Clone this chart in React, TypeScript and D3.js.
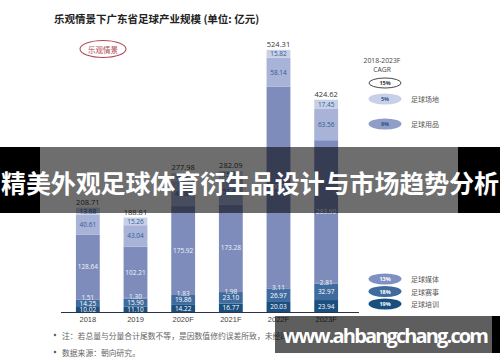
import * as React from "react";
import * as d3 from "d3";
import { useEffect, useRef } from "react";

const years = ["2018", "2019", "2020F", "2021F", "2022F", "2023F"];
const totals = [208.71, 188.81, 277.98, 282.09, 524.31, 424.62];
// segments, bottom to top
const training = [10.02, 11.1, 14.22, 16.77, 20.03, 23.94];
const events = [14.25, 15.9, 19.86, 23.1, 26.97, 32.97];
const media = [1.51, 1.3, 1.83, 1.98, 3.11, 2.81];
const other = [128.64, 102.21, 175.92, 173.28, 400.24, 283.9];
const goods = [40.61, 43.04, 49.88, 51.43, 58.14, 63.56];
const venues = [13.68, 15.26, 16.27, 15.53, 15.82, 17.45];

const seriesKeys = ["training", "events", "media", "other", "goods", "venues"];
const seriesValues = [training, events, media, other, goods, venues];
const seriesColors = ["#1b4f80", "#3f6b9e", "#7586b8", "#7d8cbb", "#a8b3d7", "#c8d0e8"];
const labelColors = ["#ffffff", "#ffffff", "#f2f4fa", "#f2f4fa", "#2f5b95", "#2f5b95"];

const cagrTotal = "15%";
const cagrTopNames = ["足球场地", "足球用品"];
const cagrTopValues = ["5%", "9%"];
const cagrTopColors = ["#c8d0e8", "#8f9dc8"];
const cagrBottomNames = ["足球媒体", "足球赛事", "足球培训"];
const cagrBottomValues = ["13%", "18%", "19%"];
const cagrBottomColors = ["#8090c2", "#3f6b9e", "#17507f"];

const titleText = "乐观情景下广东省足球产业规模 (单位: 亿元)";
const scenarioText = "乐观情景";
const notes = [
  "注：若总量与分量合计尾数不等，是因数值修约误差所致，未经四舍五入",
  "数据来源：朝向研究。",
];
const bannerText = "精美外观足球体育衍生品设计与市场趋势分析";
const siteText = "www.ahbangchang.com";

const numFont = '"Open Sans", "DejaVu Sans", sans-serif';
const cjkFont = '"Noto Sans CJK SC", "Noto Sans", sans-serif';

function generateChart(svgRef: React.RefObject<SVGSVGElement>) {
  const svg = d3.select(svgRef.current);
  svg.selectAll("*").remove();
  const width = 500;
  const height = 362;
  svg.attr("width", width).attr("height", height);

  svg.append("rect").attr("width", width).attr("height", height).attr("fill", "#ffffff");

  const rows = years.map((y, i) => {
    const r: any = { year: y };
    seriesKeys.forEach((k, j) => (r[k] = seriesValues[j][i]));
    return r;
  });
  const stacked = d3.stack().keys(seriesKeys)(rows);

  const xScale = d3
    .scaleBand()
    .domain(years)
    .range([64, 350])
    .paddingInner(0.5)
    .paddingOuter(0.25);
  const yScale = d3.scaleLinear().domain([0, 600]).range([312, 12]);

  // title
  svg
    .append("text")
    .attr("x", 54)
    .attr("y", 23)
    .attr("font-family", cjkFont)
    .attr("font-weight", "700")
    .attr("font-size", 10.5)
    .attr("fill", "#222")
    .text(titleText);

  svg
    .append("ellipse")
    .attr("cx", 103)
    .attr("cy", 49)
    .attr("rx", 23)
    .attr("ry", 8.5)
    .attr("fill", "none")
    .attr("stroke", "#b04a55")
    .attr("stroke-width", 1.1);
  svg
    .append("text")
    .attr("x", 103)
    .attr("y", 49)
    .attr("text-anchor", "middle")
    .attr("dominant-baseline", "central")
    .attr("font-family", cjkFont)
    .attr("font-size", 7.5)
    .attr("fill", "#b04a55")
    .text(scenarioText);

  // bars
  const layers = svg.append("g");
  stacked.forEach((layer, j) => {
    layers
      .selectAll(null)
      .data(layer)
      .enter()
      .append("rect")
      .attr("x", (d: any) => xScale(d.data.year)!)
      .attr("y", (d) => yScale(d[1]))
      .attr("width", xScale.bandwidth())
      .attr("height", (d) => yScale(d[0]) - yScale(d[1]))
      .attr("fill", seriesColors[j]);
  });

  // segment labels, pushed apart at the thin bottom segments
  years.forEach((year, i) => {
    let prev = Infinity;
    stacked.forEach((layer, j) => {
      const d = layer[i];
      let cy = (yScale(d[0]) + yScale(d[1])) / 2;
      if (cy > prev - 6) cy = prev - 6;
      prev = cy;
      svg
        .append("text")
        .attr("x", xScale(year)! + xScale.bandwidth() / 2)
        .attr("y", cy)
        .attr("text-anchor", "middle")
        .attr("dominant-baseline", "central")
        .attr("font-family", numFont)
        .attr("font-size", 6.5)
        .attr("fill", labelColors[j])
        .text(seriesValues[j][i].toFixed(2));
    });
  });

  // totals
  svg
    .selectAll(null)
    .data(years)
    .enter()
    .append("text")
    .attr("x", (d) => xScale(d)! + xScale.bandwidth() / 2)
    .attr("y", (d, i) => yScale(totals[i]) - 3)
    .attr("text-anchor", "middle")
    .attr("font-family", numFont)
    .attr("font-size", 7.5)
    .attr("fill", "#333")
    .text((d, i) => totals[i].toFixed(2));

  // x axis
  const xAxis = d3.axisBottom(xScale).tickSize(0).tickPadding(5);
  const gx = svg
    .append("g")
    .attr("transform", `translate(0, ${yScale(0)})`)
    .attr("font-family", numFont)
    .call(xAxis);
  gx.select(".domain").remove();
  gx.selectAll("text").attr("font-size", 7.5).attr("fill", "#444");
  svg
    .append("line")
    .attr("x1", 61)
    .attr("x2", 359)
    .attr("y1", yScale(0) + 0.5)
    .attr("y2", yScale(0) + 0.5)
    .attr("stroke", "#2b3446")
    .attr("stroke-width", 1.2);

  // CAGR legend
  const lx = 385;
  svg
    .append("text")
    .attr("x", lx - 3)
    .attr("y", 63)
    .attr("text-anchor", "middle")
    .attr("font-family", numFont)
    .attr("font-size", 6.8)
    .attr("fill", "#444")
    .text("2018-2023F");
  svg
    .append("text")
    .attr("x", lx - 3)
    .attr("y", 72)
    .attr("text-anchor", "middle")
    .attr("font-family", numFont)
    .attr("font-size", 6.8)
    .attr("fill", "#444")
    .text("CAGR");
  svg
    .append("ellipse")
    .attr("cx", lx)
    .attr("cy", 83)
    .attr("rx", 16)
    .attr("ry", 5)
    .attr("fill", "#fff")
    .attr("stroke", "#333")
    .attr("stroke-width", 0.9);
  svg
    .append("text")
    .attr("x", lx)
    .attr("y", 83)
    .attr("text-anchor", "middle")
    .attr("dominant-baseline", "central")
    .attr("font-family", numFont)
    .attr("font-weight", "700")
    .attr("font-size", 5.5)
    .attr("fill", "#333")
    .text(cagrTotal);

  const drawLegend = (names: string[], values: string[], colors: string[], y0: number, step: number, textFill: string[]) => {
    names.forEach((n, i) => {
      const cy = y0 + i * step;
      svg
        .append("ellipse")
        .attr("cx", lx)
        .attr("cy", cy)
        .attr("rx", 16.5)
        .attr("ry", 5.5)
        .attr("fill", colors[i]);
      svg
        .append("text")
        .attr("x", lx)
        .attr("y", cy)
        .attr("text-anchor", "middle")
        .attr("dominant-baseline", "central")
        .attr("font-family", numFont)
        .attr("font-weight", "700")
        .attr("font-size", 5.5)
        .attr("fill", textFill[i])
        .text(values[i]);
      svg
        .append("text")
        .attr("x", lx + 26)
        .attr("y", cy)
        .attr("dominant-baseline", "central")
        .attr("font-family", cjkFont)
        .attr("font-size", 7)
        .attr("fill", "#555")
        .text(n);
    });
  };
  drawLegend(cagrTopNames, cagrTopValues, cagrTopColors, 99, 25, ["#2f5b95", "#2f4f80"]);
  drawLegend(cagrBottomNames, cagrBottomValues, cagrBottomColors, 279, 12.5, ["#fff", "#fff", "#fff"]);

  // notes
  notes.forEach((n, i) => {
    const y = 335 + i * 17;
    svg
      .append("circle")
      .attr("cx", 55)
      .attr("cy", y)
      .attr("r", 1.3)
      .attr("fill", "#666");
    svg
      .append("text")
      .attr("x", 62)
      .attr("y", y)
      .attr("dominant-baseline", "central")
      .attr("font-family", cjkFont)
      .attr("font-size", 7.8)
      .attr("fill", "#666")
      .text(n);
  });

  // overlay banner
  const banner = svg.append("g");
  banner.append("rect").attr("x", 0).attr("y", 147).attr("width", 40).attr("height", 66).attr("fill", "#000");
  banner.append("rect").attr("x", 40).attr("y", 147).attr("width", 418).attr("height", 66).attr("fill", "rgba(0,0,0,0.57)");
  banner.append("rect").attr("x", 458).attr("y", 147).attr("width", 42).attr("height", 66).attr("fill", "#000");
  banner
    .append("text")
    .attr("x", 250)
    .attr("y", 182)
    .attr("text-anchor", "middle")
    .attr("dominant-baseline", "central")
    .attr("font-family", cjkFont)
    .attr("font-weight", "700")
    .attr("font-size", 25)
    .attr("textLength", 498)
    .attr("fill", "#fff")
    .text(bannerText);

  // site watermark
  const site = svg.append("g");
  site.append("rect").attr("x", 275).attr("y", 316).attr("width", 217).attr("height", 37).attr("fill", "rgba(0,0,0,0.63)");
  site.append("rect").attr("x", 492).attr("y", 316).attr("width", 8).attr("height", 37).attr("fill", "#000");
  site
    .append("text")
    .attr("x", 283)
    .attr("y", 335)
    .attr("dominant-baseline", "central")
    .attr("font-family", '"Open Sans", "DejaVu Sans", sans-serif')
    .attr("font-weight", "700")
    .attr("font-size", 20)
    .attr("textLength", 206)
    .attr("fill", "#fff")
    .text(siteText);
}

export default function App() {
  const svg = useRef<SVGSVGElement>(null);
  useEffect(() => {
    generateChart(svg);
  }, []);
  return (
    <div style={{ position: "absolute", left: 0, top: 0 }}>
      <svg ref={svg} style={{ display: "block" }} />
    </div>
  );
}
